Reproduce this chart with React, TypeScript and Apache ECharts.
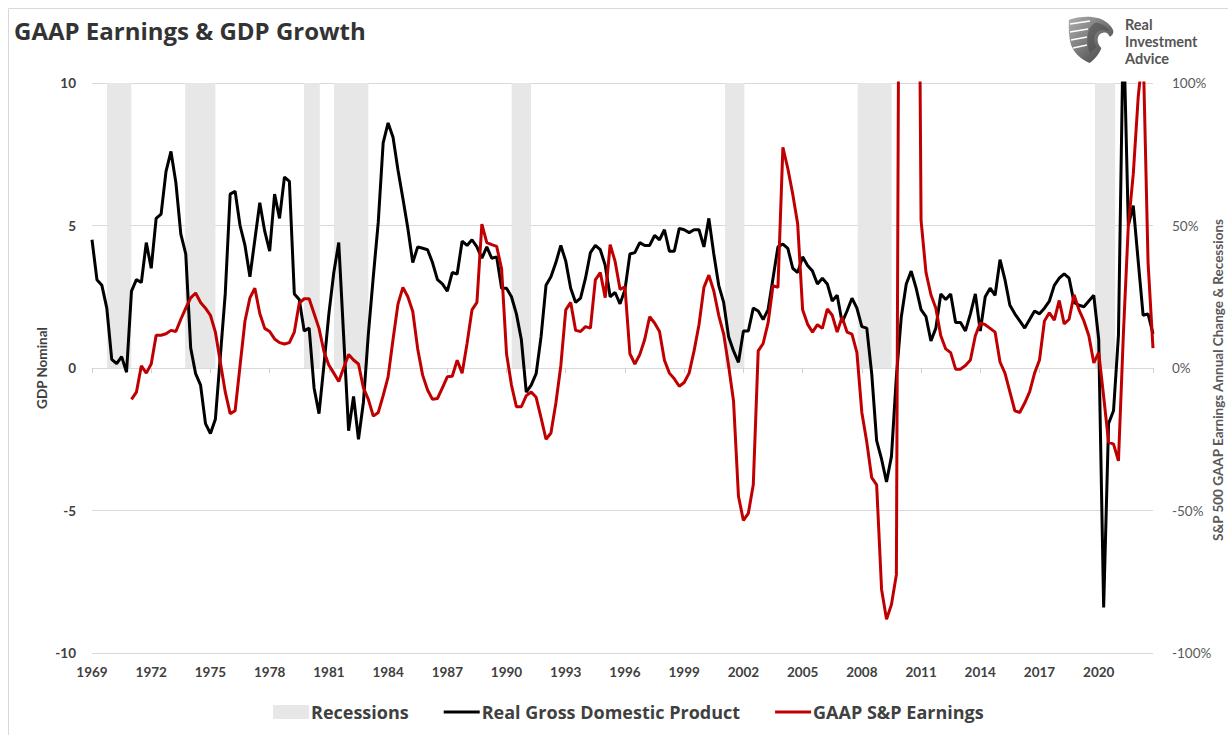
import React, { useEffect, useRef } from 'react';
import * as echarts from 'echarts';

// ---------- DATA ----------
const gdpStartYear = 1969; // quarterly, Real GDP YoY %
const gdpGrowth = [
  4.5, 3.1, 2.9, 2.1,
  0.3, 0.15, 0.4, -0.15,
  2.7, 3.1, 3.0, 4.4,
  3.5, 5.25, 5.4, 6.9,
  7.6, 6.5, 4.7, 4.0,
  0.7, -0.2, -0.6, -1.95,
  -2.3, -1.8, 0.4, 2.6,
  6.1, 6.2, 5.0, 4.3,
  3.2, 4.5, 5.8, 4.8,
  4.1, 6.1, 5.25, 6.7,
  6.55, 2.6, 2.4, 1.3,
  1.4, -0.7, -1.6, 0.1,
  1.9, 3.35, 4.4, 1.1,
  -2.2, -1.0, -2.5, -1.2,
  1.2, 3.2, 5.1, 7.9,
  8.6, 8.1, 6.95, 5.95,
  4.9, 3.7, 4.25, 4.2,
  4.15, 3.7, 3.1, 2.95,
  2.7, 3.35, 3.3, 4.45,
  4.3, 4.5, 4.25, 3.85,
  4.25, 3.85, 3.9, 2.8,
  2.8, 2.5, 1.9, 1.0,
  -0.85, -0.6, -0.2, 1.1,
  2.9, 3.2, 3.7, 4.3,
  3.75, 2.8, 2.3, 2.45,
  3.15, 4.05, 4.3, 4.15,
  3.6, 2.5, 2.65, 2.25,
  2.75, 4.0, 4.05, 4.4,
  4.3, 4.3, 4.65, 4.5,
  4.85, 4.1, 4.1, 4.9,
  4.85, 4.75, 4.85, 4.85,
  4.25, 5.25, 4.0, 2.9,
  2.3, 1.1, 0.6, 0.2,
  1.3, 1.3, 2.1, 2.0,
  1.7, 2.05, 3.15, 4.25,
  4.35, 4.2, 3.5, 3.35,
  3.9, 3.6, 3.4, 2.95,
  3.15, 2.95, 2.35, 2.55,
  1.6, 2.0, 2.45, 2.1,
  1.45, 1.4, -0.2, -2.55,
  -3.2, -4.0, -3.1, -0.3,
  1.8, 2.95, 3.4, 2.8,
  2.05, 1.8, 0.95, 1.4,
  2.6, 2.4, 2.6, 1.6,
  1.6, 1.3, 1.9, 2.6,
  1.3, 2.5, 2.8, 2.55,
  3.8, 3.1, 2.2, 1.9,
  1.65, 1.4, 1.7, 2.0,
  1.9, 2.1, 2.35, 2.9,
  3.15, 3.3, 3.15, 2.3,
  2.2, 2.15, 2.35, 2.55,
  1.0, -8.4, -1.95, -1.5,
  1.15, 12.2, 5.0, 5.7,
  3.75, 1.85, 1.9, 1.2,
];

const earningsStartYear = 1971; // quarterly, GAAP S&P 500 earnings YoY %
const gaapEarningsChange = [
  -11, -8.5, 0.8, -1.8,
  1.4, 11.5, 11.5, 12,
  13.2, 12.8, 17.1, 21,
  24.6, 26.3, 23, 21,
  18.5, 12.6, 2.1, -8.4,
  -16, -15, 0.8, 16.5,
  24.6, 28, 19.1, 13.9,
  12.8, 10.2, 8.9, 8.4,
  8.9, 12.6, 22.8, 24.3,
  24.3, 19.1, 13.9, 5.8,
  1.0, -1.8, -4.7, 0.1,
  4.7, 2.8, 1.4, -7,
  -11, -16.9, -15.6, -9.7,
  -3.1, 10, 22.4, 28.3,
  25, 19.8, 6.7, -2.5,
  -7.7, -11, -10.7, -7,
  -3.1, -2.9, 2.7, -1.8,
  8.6, 20.4, 23, 50.5,
  44, 43.3, 42.7, 34.8,
  5, -6, -13.6, -13.6,
  -9.7, -8.4, -10.3, -17.5,
  -25, -22.8, -12.3, 0.8,
  20.4, 23, 13.2, 12.8,
  14.5, 14, 30.9, 33.5,
  24.7, 43.3, 37.4, 27.6,
  28.5, 5.0, 1.4, 4.7,
  10, 18, 15.8, 12.8,
  2.7, -1.8, -3.8, -6.4,
  -5.1, -1.8, 6, 15.2,
  28.3, 32.6, 27, 18.5,
  11.9, 0.8, -11.6, -45,
  -53.5, -51, -41, 6,
  8.6, 15.8, 28.9, 28.3,
  77.4, 70, 61, 50.5,
  20.4, 15.4, 12.6, 15.2,
  13.9, 20.7, 18.5, 12.6,
  17.8, 12.6, 11.9, 5.4,
  -15.6, -26, -38.5, -41,
  -77.7, -88.2, -83, -72.5,
  350, 420, 380, 300,
  51.8, 33.5, 25.7, 21,
  11.3, 6.7, 5.4, -0.4,
  -0.4, 0.9, 2.8, 11.3,
  15.8, 15.2, 13.9, 12.6,
  2.1, -1.8, -8.4, -15,
  -15.6, -12.3, -8.4, -1.8,
  2.8, 16.5, 19.4, 16.8,
  23.7, 15.5, 17.1, 25.7,
  20.4, 16.5, 11.3, 1.8,
  5.4, -10, -26, -26.7,
  -32.6, 12, 50, 68,
  95, 112, 37, 7,
];

const recessionStarts = [1969.76, 1973.72, 1979.74, 1981.26, 1990.26, 2001.07, 2007.79, 2019.81];
const recessionEnds = [1970.99, 1975.25, 1980.54, 1983.0, 1991.24, 2002.05, 2009.51, 2020.83];

const xMin = 1969;
const xMax = 2022.75;
const xInterval = 3;
const leftMin = -10, leftMax = 10, leftInterval = 5;
const rightMin = -100, rightMax = 100, rightInterval = 50;

const seriesNames = ['Recessions', 'Real Gross Domestic Product', 'GAAP S&P Earnings'];
const logoLines = ['Real', 'Investment', 'Advice'];

// ---------- LOGO SHAPES ----------
const eagleD =
  'M4 8 C24 1 50 -1 68 5 C82 10 93 19 98 30 C100 36 97 42 91 44 L87 38 C81 33 73 35 68 41 C63 49 65 60 73 68 C68 82 58 93 48 100 C30 92 14 78 8 60 C4 45 3 25 4 8 Z';
const faceD = 'M62 14 C74 16 84 22 90 31 L84 32 C76 27 66 30 61 38 C56 46 57 58 63 66 C58 70 54 74 50 80 C44 70 42 56 44 42 C46 28 52 18 62 14 Z';
try {
  echarts.graphic.registerShape('logo', echarts.graphic.extendPath(eagleD, {}));
  echarts.graphic.registerShape('logoface', echarts.graphic.extendPath(faceD, {}));
} catch (e) {
  /* already registered */
}

const LATO = 'Lato, "Open Sans", sans-serif';
const OPEN = '"Open Sans", Lato, sans-serif';

export default function App() {
  const ref = useRef<HTMLDivElement>(null);

  useEffect(() => {
    if (!ref.current) return;
    const chart = echarts.init(ref.current, undefined, { renderer: 'svg' });

    const gdpData = gdpGrowth.map((v, i) => [gdpStartYear + i / 4, v]);
    const earnData = gaapEarningsChange.map((v, i) => [earningsStartYear + i / 4, v]);
    const recAreas = recessionStarts.map((s, i) => [
      { xAxis: s, yAxis: 0 },
      { xAxis: recessionEnds[i], yAxis: leftMax },
    ]);

    const txt = (text: string, x: number, y: number, size: number, weight: any, fill: string, family: string, extra: any = {}) => {
      const { align, ...rest } = extra;
      return {
        type: 'text',
        x,
        y,
        silent: true,
        ...rest,
        style: {
          text,
          fontSize: size,
          fontWeight: weight,
          fontFamily: family,
          fill,
          align: align || 'left',
          textAlign: align || 'left',
          verticalAlign: 'middle',
          textVerticalAlign: 'middle',
        },
      };
    };

    const lineIcon = 'path://M0 0H40V3.2H0Z';

    const option: any = {
      animation: false,
      backgroundColor: '#ffffff',
      grid: { left: 92, right: 75, top: 83, bottom: 82, containLabel: false },
      xAxis: [
        {
          type: 'value',
          position: 'bottom',
          min: xMin,
          max: xMax,
          interval: xInterval,
          axisLine: { show: false },
          axisTick: { show: false },
          splitLine: { show: false },
          axisLabel: {
            margin: 12,
            color: '#404040',
            fontSize: 13.5,
            fontWeight: 'bold',
            fontFamily: LATO,
            showMaxLabel: false,
            formatter: (v: number) =>
              Math.abs((v - xMin) / xInterval - Math.round((v - xMin) / xInterval)) < 1e-6 ? String(Math.round(v)) : '',
          },
        },
        {
          type: 'value',
          position: 'top',
          min: xMin,
          max: xMax,
          interval: xInterval,
          axisLine: { show: true, onZero: true, lineStyle: { color: '#d9d9d9', width: 1 } },
          axisTick: { show: true, inside: true, length: 5, lineStyle: { color: '#d0d0d0' } },
          axisLabel: { show: false },
          splitLine: { show: false },
        },
      ],
      yAxis: [
        {
          type: 'value',
          min: leftMin,
          max: leftMax,
          interval: leftInterval,
          axisLine: { show: false },
          axisTick: { show: false },
          splitLine: { show: true, lineStyle: { color: '#d9d9d9', width: 1 } },
          axisLabel: { margin: 16, color: '#404040', fontSize: 13.5, fontWeight: 'bold', fontFamily: LATO },
        },
        {
          type: 'value',
          min: rightMin,
          max: rightMax,
          interval: rightInterval,
          axisLine: { show: false },
          axisTick: { show: false },
          splitLine: { show: false },
          axisLabel: {
            margin: 19,
            color: '#595959',
            fontSize: 13.5,
            fontFamily: LATO,
            formatter: '{value}%',
          },
        },
      ],
      legend: {
        bottom: 9,
        left: 268,
        itemWidth: 36,
        itemHeight: 14,
        itemGap: 35,
        textStyle: { fontSize: 18, fontWeight: 'bold', color: '#404040', fontFamily: OPEN, padding: [0, 0, 0, -3] },
        data: [
          { name: seriesNames[0], icon: 'rect' },
          { name: seriesNames[1], icon: lineIcon },
          { name: seriesNames[2], icon: lineIcon },
        ],
      },
      series: [
        {
          name: seriesNames[0],
          type: 'line',
          data: [],
          color: '#e7e7e7',
          itemStyle: { color: '#e7e7e7' },
          lineStyle: { color: '#e7e7e7' },
          showSymbol: false,
          markArea: {
            silent: true,
            itemStyle: { color: '#e7e7e7' },
            data: recAreas,
          },
        },
        {
          name: seriesNames[1],
          type: 'line',
          xAxisIndex: 0,
          yAxisIndex: 0,
          data: gdpData,
          showSymbol: false,
          symbol: 'none',
          color: '#000000',
          lineStyle: { color: '#000000', width: 3 },
          z: 3,
        },
        {
          name: seriesNames[2],
          type: 'line',
          xAxisIndex: 0,
          yAxisIndex: 1,
          data: earnData,
          showSymbol: false,
          symbol: 'none',
          color: '#c00000',
          lineStyle: { color: '#c00000', width: 3 },
          z: 4,
        },
      ],
      graphic: [
        {
          type: 'rect',
          silent: true,
          shape: { x: 8.5, y: 8.5, width: 1400, height: 900 },
          style: { fill: 'none', stroke: '#d9d9d9', lineWidth: 1 },
        },
        txt('GAAP Earnings & GDP Growth', 14, 30, 24, 'bold', '#333333', OPEN),
        txt('GDP Nominal', 42, 368, 13.5, 'bold', '#404040', LATO, { rotation: Math.PI / 2, align: 'center' }),
        txt('S&P 500 GAAP Earnings Annual Change & Recessions', 1218, 380, 13.5, 'bold', '#595959', LATO, {
          rotation: Math.PI / 2,
          align: 'center',
        }),
        {
          type: 'logo',
          x: 1067,
          y: 16,
          scaleX: 0.47,
          scaleY: 0.47,
          silent: true,
          style: {
            fill: new echarts.graphic.LinearGradient(0, 0, 1, 1, [
              { offset: 0, color: '#b0b0b0' },
              { offset: 1, color: '#3c3c3c' },
            ]),
          },
        },
        {
          type: 'logoface',
          x: 1067,
          y: 16,
          scaleX: 0.47,
          scaleY: 0.47,
          silent: true,
          style: { fill: '#4a4a4a', opacity: 0.55 },
        },
        { type: 'line', silent: true, shape: { x1: 1070, y1: 24, x2: 1090, y2: 21 }, style: { stroke: '#ffffff', lineWidth: 1.5 } },
        { type: 'line', silent: true, shape: { x1: 1070, y1: 32, x2: 1088, y2: 29 }, style: { stroke: '#ffffff', lineWidth: 1.5 } },
        { type: 'line', silent: true, shape: { x1: 1071, y1: 40, x2: 1087, y2: 37 }, style: { stroke: '#ffffff', lineWidth: 1.5 } },
        { type: 'line', silent: true, shape: { x1: 1073, y1: 48, x2: 1087, y2: 45 }, style: { stroke: '#ffffff', lineWidth: 1.5 } },
        txt(logoLines[0], 1125, 24, 14.5, 'bold', '#555555', LATO),
        txt(logoLines[1], 1125, 41, 14.5, 'bold', '#555555', LATO),
        txt(logoLines[2], 1125, 58, 14.5, 'bold', '#555555', LATO),
      ],
    };

    chart.setOption(option);
    return () => chart.dispose();
  }, []);

  return <div ref={ref} style={{ position: 'absolute', left: 0, top: 0, width: 1228, height: 735 }} />;
}
